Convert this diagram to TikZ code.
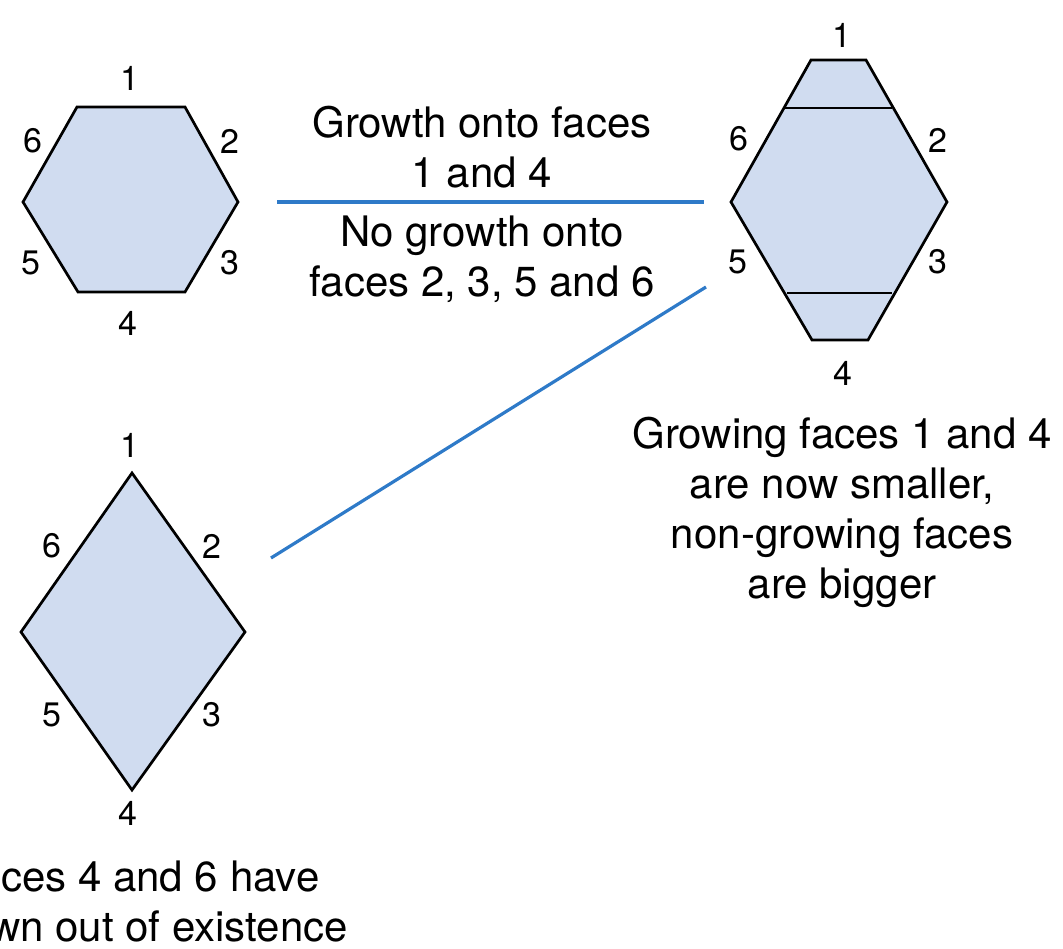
\documentclass[tikz,border=0pt]{standalone}
\usepackage{fontspec}
\setmainfont{TeX Gyre Heros}
\definecolor{facefill}{RGB}{208,220,240}
\definecolor{linkblue}{RGB}{46,122,200}
\begin{document}
\begin{tikzpicture}[x=1pt,y=-1pt,
  face/.style={fill=facefill,draw=black,line width=2.7pt,line join=miter},
  cut/.style={draw=black,line width=2.7pt},
  lbl/.style={inner sep=0pt,font=\fontsize{34}{40}\selectfont},
  txt/.style={inner sep=0pt,anchor=base,font=\fontsize{42}{50}\selectfont},
  link/.style={draw=linkblue,line width=3.2pt}]
\useasboundingbox (0,0) rectangle (1063,949);

% ---- hexagon (left top)
\draw[face] (77,107) -- (185,107) -- (238,202) -- (185,292) -- (78,292) -- (23,202) -- cycle;
\node[lbl] (a1) at (130,78) {1};
\node[lbl] (a2) at (230,141) {2};
\node[lbl] (a3) at (230,263) {3};
\node[lbl] (a4) at (128,323) {4};
\node[lbl] (a5) at (31,263) {5};
\node[lbl] (a6) at (33,141) {6};

% ---- elongated hexagon (right top)
\draw[face] (811,60) -- (866,60) -- (947,202) -- (868,340) -- (812,340) -- (731,202) -- cycle;
\draw[cut] (785,108) -- (892,108);
\draw[cut] (787,293) -- (892,293);
\node[lbl] (b1) at (842,35) {1};
\node[lbl] (b2) at (938,140) {2};
\node[lbl] (b3) at (938,262) {3};
\node[lbl] (b4) at (843,373) {4};
\node[lbl] (b5) at (738,262) {5};
\node[lbl] (b6) at (739,139) {6};

% ---- rhombus (left bottom)
\draw[face] (132,473) -- (245,632) -- (132,790) -- (21,632) -- cycle;
\node[lbl] (c1) at (130,445) {1};
\node[lbl] (c2) at (212,546) {2};
\node[lbl] (c3) at (212,715) {3};
\node[lbl] (c4) at (128,813) {4};
\node[lbl] (c5) at (52,715) {5};
\node[lbl] (c6) at (52,546) {6};

% ---- connectors
\coordinate (h1) at (277,202);
\coordinate (h2) at (704,202);
\coordinate (d1) at (706,287);
\coordinate (d2) at (271,558);
\draw[link] (h1) -- (h2);
\draw[link] (d1) -- (d2);

% ---- texts
\node[txt] (t1) at (482,138) {Growth onto faces};
\node[txt] (t2) at (482,188) {1 and 4};
\node[txt] (t3) at (482,247) {No growth onto};
\node[txt] (t4) at (482,297) {faces 2, 3, 5 and 6};

\node[txt] (r1) at (842,448) {Growing faces 1 and 4};
\node[txt] (r2) at (842,498) {are now smaller,};
\node[txt] (r3) at (842,548) {non-growing faces};
\node[txt] (r4) at (842,598) {are bigger};

\node[txt,anchor=base west] (s1) at (1,891) {ces 4 and 6 have};
\node[txt,anchor=base east] (s2) at (348,941) {wn out of existence};
\end{tikzpicture}
\end{document}
